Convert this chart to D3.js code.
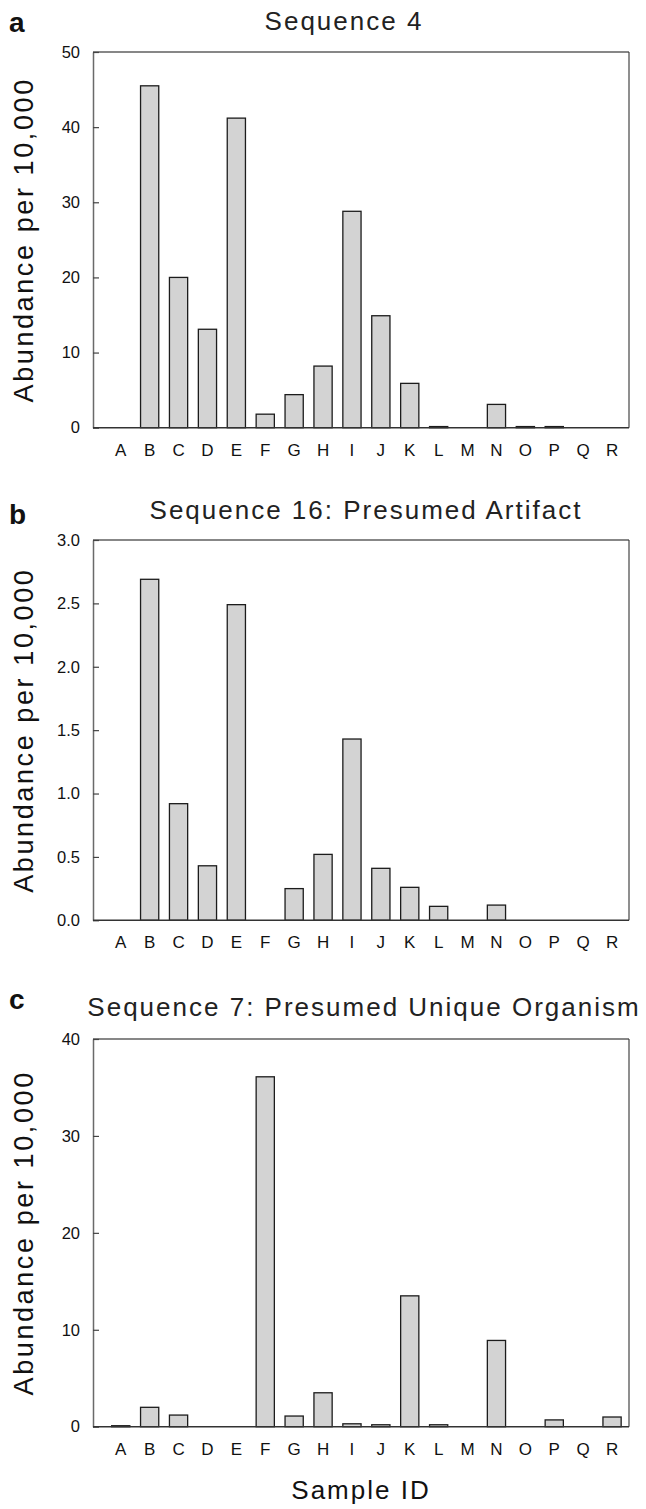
<!DOCTYPE html>
<html>
<head>
<meta charset="utf-8">
<script src="https://cdnjs.cloudflare.com/ajax/libs/d3/7.8.5/d3.min.js"></script>
<style>
  body { margin: 0; background: #fff; }
  svg { display: block; font-family: "Liberation Sans", Arial, Helvetica, sans-serif; }
</style>
</head>
<body>
<script>
// sample ids on the x axis
var categories = ["A","B","C","D","E","F","G","H","I","J","K","L","M","N","O","P","Q","R"];

// abundance per 10,000
var seq4Values  = [0, 45.5, 20.0, 13.1, 41.2, 1.8, 4.4, 8.2, 28.8, 14.9, 5.9, 0.15, 0, 3.1, 0.15, 0.15, 0, 0];
var seq16Values = [0, 2.69, 0.92, 0.43, 2.49, 0, 0.25, 0.52, 1.43, 0.41, 0.26, 0.11, 0, 0.12, 0, 0, 0, 0];
var seq7Values  = [0.1, 2.0, 1.2, 0, 0, 36.1, 1.1, 3.5, 0.3, 0.2, 13.5, 0.2, 0, 8.9, 0, 0.7, 0, 1.0];

var seq4Ticks  = [0, 10, 20, 30, 40, 50];
var seq16Ticks = [0, 0.5, 1.0, 1.5, 2.0, 2.5, 3.0];
var seq7Ticks  = [0, 10, 20, 30, 40];

var panelLetters = ["a", "b", "c"];
var panelTitles = ["Sequence 4", "Sequence 16: Presumed Artifact", "Sequence 7: Presumed Unique Organism"];
var yLabel = "Abundance per 10,000";
var xLabel = "Sample ID";

var W = 646, H = 1509;
var plotLeft = 93, plotRight = 629;
var bandLeft = 106.3, bandRight = 626.5;

// vertical placement of each panel
var panels = [
  { letter: panelLetters[0], title: panelTitles[0], values: seq4Values,  ticks: seq4Ticks,  fmt: d3.format("d"),   top: 52,   bottom: 427.7, titleX: 344, titleY: 30,   letterY: 32 },
  { letter: panelLetters[1], title: panelTitles[1], values: seq16Values, ticks: seq16Ticks, fmt: d3.format(".1f"), top: 540,  bottom: 920.3, titleX: 366, titleY: 519,  letterY: 524 },
  { letter: panelLetters[2], title: panelTitles[2], values: seq7Values,  ticks: seq7Ticks,  fmt: d3.format("d"),   top: 1039, bottom: 1426.7, titleX: 364, titleY: 1016, letterY: 1009 }
];

var svg = d3.select("body").append("svg")
  .attr("width", W)
  .attr("height", H);

var x = d3.scaleBand()
  .domain(categories)
  .range([bandLeft, bandRight])
  .paddingInner(0.37)
  .paddingOuter(0.185);

panels.forEach(function(p) {
  var y = d3.scaleLinear()
    .domain([0, d3.max(p.ticks)])
    .range([p.bottom, p.top]);

  var g = svg.append("g");

  // panel letter and title
  g.append("text")
    .attr("x", 9)
    .attr("y", p.letterY)
    .style("font-size", "28px")
    .style("font-weight", "bold")
    .attr("fill", "#111")
    .text(p.letter);

  g.append("text")
    .attr("x", p.titleX)
    .attr("y", p.titleY)
    .attr("text-anchor", "middle")
    .style("font-size", "26px")
    .style("letter-spacing", "2px")
    .attr("fill", "#222")
    .text(p.title);

  // bars (zero values are not drawn)
  var data = categories.map(function(c, i) { return { cat: c, v: p.values[i] }; })
    .filter(function(d) { return d.v > 0; });

  g.selectAll("rect.bar")
    .data(data)
    .enter().append("rect")
    .attr("class", "bar")
    .attr("x", function(d) { return x(d.cat); })
    .attr("width", x.bandwidth())
    .attr("y", function(d) { return y(d.v); })
    .attr("height", function(d) { return Math.max(0.5, y(0) - y(d.v)); })
    .attr("fill", "#d3d3d3")
    .attr("stroke", "#1c1c1c")
    .attr("stroke-width", 1.3);

  // frame: top and right thin black, left grey, bottom dark
  g.append("line")
    .attr("x1", plotLeft).attr("x2", plotRight)
    .attr("y1", p.top).attr("y2", p.top)
    .attr("stroke", "#111").attr("stroke-width", 1.1);
  g.append("line")
    .attr("x1", plotRight).attr("x2", plotRight)
    .attr("y1", p.top).attr("y2", p.bottom)
    .attr("stroke", "#333").attr("stroke-width", 1.1);

  // left axis with inward ticks
  var yAxis = d3.axisLeft(y)
    .tickValues(p.ticks)
    .tickFormat(p.fmt)
    .tickSizeInner(-6)
    .tickSizeOuter(0)
    .tickPadding(13);

  var ya = g.append("g")
    .attr("transform", "translate(" + plotLeft + ",0)")
    .call(yAxis);
  ya.select(".domain").attr("stroke", "#6a6a6a").attr("stroke-width", 1.5);
  ya.selectAll(".tick line").attr("stroke", "#444").attr("stroke-width", 1.2);
  ya.selectAll(".tick text")
    .style("font-size", "16.5px")
    .attr("fill", "#111")
    .attr("x", -13);

  // bottom axis, labels only
  var xAxis = d3.axisBottom(x)
    .tickSize(0)
    .tickPadding(16);

  var xa = g.append("g")
    .attr("transform", "translate(0," + p.bottom + ")")
    .call(xAxis);
  xa.select(".domain").remove();
  xa.selectAll(".tick text")
    .style("font-size", "17px")
    .attr("fill", "#111");
  g.append("line")
    .attr("x1", plotLeft).attr("x2", plotRight)
    .attr("y1", p.bottom).attr("y2", p.bottom)
    .attr("stroke", "#333").attr("stroke-width", 1.6);

  // y axis title
  g.append("text")
    .attr("transform", "translate(33," + ((p.top + p.bottom) / 2) + ") rotate(-90)")
    .attr("text-anchor", "middle")
    .style("font-size", "27px")
    .style("letter-spacing", "2.6px")
    .attr("fill", "#111")
    .text(yLabel);
});

svg.append("text")
  .attr("x", 361)
  .attr("y", 1499)
  .attr("text-anchor", "middle")
  .style("font-size", "26px")
  .style("letter-spacing", "2px")
  .attr("fill", "#111")
  .text(xLabel);
</script>
</body>
</html>
